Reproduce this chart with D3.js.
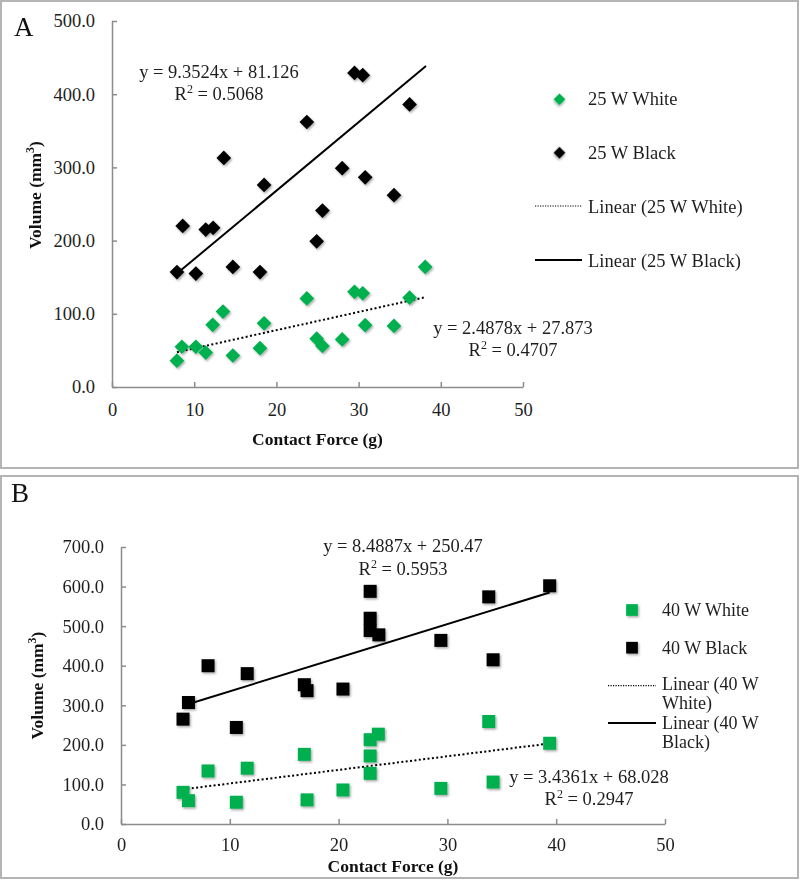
<!DOCTYPE html>
<html><head><meta charset="utf-8">
<script src="https://cdn.jsdelivr.net/npm/d3@7"></script>
<style>body{margin:0;background:#fff} svg{display:block}</style>
</head><body><svg id="c" width="800" height="880"></svg>
<script>
// ---------- data ----------
const xTicks = [0, 10, 20, 30, 40, 50];
const yTicksA = [0, 100, 200, 300, 400, 500];
const yTicksB = [0, 100, 200, 300, 400, 500, 600, 700];

const aWhiteX = [7.9, 8.5, 10.2, 11.4, 12.25, 13.5, 14.7, 18.0, 18.5, 23.7, 24.9, 25.6, 28.0, 29.5, 30.5, 30.8, 34.3, 36.2, 38.1];
const aWhiteY = [36, 55, 55, 47, 85, 103, 43, 53, 87, 121, 66, 56, 65, 130, 128, 84.5, 83.5, 122, 164];
const aBlackX = [7.9, 8.6, 10.2, 11.4, 12.3, 13.6, 14.7, 18.0, 18.5, 23.7, 24.9, 25.6, 28.0, 29.5, 30.5, 30.8, 34.3, 36.2];
const aBlackY = [157, 220, 155, 215, 217.5, 313, 164, 157, 276, 362, 199, 241, 299, 429, 426, 286.5, 262, 386];

const bWhiteX = [5.7, 6.2, 8.0, 10.6, 11.6, 16.85, 17.1, 20.4, 22.9, 22.9, 22.9, 23.65, 29.4, 33.8, 34.2, 39.4];
const bWhiteY = [80, 59, 134, 55, 141, 176, 61, 86, 213, 172, 128, 227, 90, 259, 106, 204];
const bBlackX = [5.7, 6.2, 8.0, 10.6, 11.6, 16.85, 17.1, 20.4, 22.9, 22.9, 22.9, 23.7, 29.4, 33.8, 34.2, 39.4];
const bBlackY = [265, 307, 400, 244, 380, 352, 337, 341, 588, 520, 489, 478, 464, 574, 415, 602];

const seriesNamesA = ["25 W White", "25 W Black"];
const seriesNamesB = ["40 W White", "40 W Black"];
const slopesA = [2.4878, 9.3524], interceptsA = [27.873, 81.126], r2A = ["0.4707", "0.5068"];
const slopesB = [3.4361, 8.4887], interceptsB = [68.028, 250.47], r2B = ["0.2947", "0.5953"];
const trendRangeA = [[7.9, 38.1], [7.9, 38.2]];
const trendRangeB = [[5.7, 39.4], [5.7, 39.4]];

// ---------- drawing ----------
const svg = d3.select("#c");
const FONT = "'Liberation Serif', 'Times New Roman', serif";
const GREEN = "#00b050", INK = "#1e1e1e";

const defs = svg.append("defs");
const f = defs.append("filter").attr("id", "sh").attr("x", "-50%").attr("y", "-50%").attr("width", "200%").attr("height", "200%");
f.append("feDropShadow").attr("dx", 1.2).attr("dy", 1.5).attr("stdDeviation", 1.2)
  .attr("flood-color", "#000").attr("flood-opacity", 0.35);

function fmtEq(m, b) { return "y = " + m + "x + " + b; }

function panel(cfg) {
  const g = svg.append("g");
  g.append("rect").attr("x", cfg.box[0]).attr("y", cfg.box[1])
    .attr("width", cfg.box[2] - cfg.box[0]).attr("height", cfg.box[3] - cfg.box[1])
    .attr("fill", "#fff").attr("stroke", "#b4b4b4").attr("stroke-width", 2);

  const x = d3.scaleLinear().domain([0, 50]).range(cfg.xr);
  const y = d3.scaleLinear().domain([0, cfg.yMax]).range(cfg.yr);

  const ax = g.append("g").attr("transform", `translate(0,${cfg.yr[0]})`)
    .call(d3.axisBottom(x).tickValues(xTicks).tickFormat(d3.format("d"))
      .tickSizeInner(-5).tickSizeOuter(0).tickPadding(cfg.xPad));
  const ay = g.append("g").attr("transform", `translate(${cfg.xr[0]},0)`)
    .call(d3.axisLeft(y).tickValues(cfg.yTicks).tickFormat(d3.format(".1f"))
      .tickSizeInner(-5).tickSizeOuter(0).tickPadding(17));
  [ax, ay].forEach(a => {
    a.selectAll("path,line").attr("stroke", "#8c8c8c").attr("stroke-width", 1.5);
    a.selectAll("text").attr("font-family", FONT).attr("font-size", 18.5).attr("fill", INK);
  });

  // trend lines
  const line = d3.line().x(d => x(d[0])).y(d => y(d[1]));
  [0, 1].forEach(i => {
    const r = cfg.ranges[i];
    const pts = r.map(v => [v, cfg.slopes[i] * v + cfg.intercepts[i]]);
    g.append("path").attr("d", line(pts)).attr("fill", "none").attr("stroke", "#000")
      .attr("stroke-width", 2)
      .attr("stroke-dasharray", i === 0 ? "2,2.4" : null);
  });

  // markers
  const sym = d3.symbol().type(d3.symbolSquare).size(cfg.markSize);
  [[cfg.wx, cfg.wy, GREEN], [cfg.bx, cfg.by, "#000"]].forEach(([xs, ys, col]) => {
    g.append("g").attr("filter", "url(#sh)").selectAll("path").data(xs.map((v, i) => [v, ys[i]]))
      .join("path").attr("d", sym)
      .attr("transform", d => `translate(${x(d[0])},${y(d[1])}) rotate(${cfg.rot})`)
      .attr("fill", col);
  });

  // equations
  [0, 1].forEach(i => {
    const e = cfg.eq[i];
    g.append("text").attr("font-family", FONT).attr("font-size", 18.5).attr("fill", INK)
      .attr("text-anchor", "middle").attr("x", e[0]).attr("y", e[1])
      .text(fmtEq(cfg.slopes[i], cfg.intercepts[i]));
    const t2 = g.append("text").attr("font-family", FONT).attr("font-size", 18.5).attr("fill", INK)
      .attr("text-anchor", "middle").attr("x", e[0]).attr("y", e[2]);
    t2.append("tspan").text("R");
    t2.append("tspan").attr("font-size", 12).attr("dy", -7).text("2");
    t2.append("tspan").attr("dy", 7).text(" = " + cfg.r2[i]);
  });

  // panel letter
  g.append("text").attr("x", cfg.letter[1]).attr("y", cfg.letter[2]).attr("font-family", FONT)
    .attr("font-size", 27).attr("fill", "#111").text(cfg.letter[0]);

  // axis titles
  g.append("text").attr("x", (cfg.xr[0] + cfg.xr[1]) / 2).attr("y", cfg.xTitleY)
    .attr("text-anchor", "middle").attr("font-family", FONT).attr("font-weight", "bold")
    .attr("font-size", 17.5).attr("fill", "#111").text("Contact Force (g)");
  const yt = g.append("text").attr("transform", `translate(${cfg.yTitleX},${(cfg.yr[0] + cfg.yr[1]) / 2 + cfg.yTitleDy}) rotate(-90)`)
    .attr("text-anchor", "middle").attr("font-family", FONT).attr("font-weight", "bold")
    .attr("font-size", 17.5).attr("fill", "#111");
  yt.append("tspan").text("Volume (mm");
  yt.append("tspan").attr("font-size", 12).attr("dy", -7).text("3");
  yt.append("tspan").attr("dy", 7).text(")");

  // legend
  const L = cfg.legend;
  const lg = g.append("g").attr("font-family", FONT).attr("font-size", L.fs).attr("fill", INK);
  const lsym = d3.symbol().type(d3.symbolSquare).size(L.markSize);
  [[GREEN, 0], ["#000", 1]].forEach(([col, i]) => {
    lg.append("path").attr("d", lsym).attr("fill", col).attr("filter", "url(#sh)")
      .attr("transform", `translate(${L.markX},${L.rows[i][0]}) rotate(${cfg.rot})`);
    lg.append("text").attr("x", L.textX).attr("y", L.rows[i][1]).text(cfg.names[i]);
  });
  [0, 1].forEach(i => {
    const r = L.rows[i + 2];
    lg.append("line").attr("x1", L.lineX[0]).attr("x2", L.lineX[1]).attr("y1", r[0]).attr("y2", r[0])
      .attr("stroke", "#000").attr("stroke-width", i === 0 ? 1.2 : 1.8)
      .attr("stroke-dasharray", i === 0 ? "1.2,1.3" : null);
    const lines = L.wrap ? ["Linear (" + cfg.names[i].replace(/ (\S+)$/, ""), cfg.names[i].match(/(\S+)$/)[1] + ")"]
                         : ["Linear (" + cfg.names[i] + ")"];
    const t = lg.append("text").attr("x", L.textX).attr("y", r[1]);
    lines.forEach((s, k) => t.append("tspan").attr("x", L.textX).attr("dy", k === 0 ? 0 : 19).text(s));
  });
}

panel({
  box: [1, 1, 798, 468], xr: [112, 523], yr: [387, 21], yMax: 500, yTicks: yTicksA,
  wx: aWhiteX, wy: aWhiteY, bx: aBlackX, by: aBlackY, rot: 45, markSize: 108,
  slopes: slopesA, intercepts: interceptsA, r2: r2A, ranges: trendRangeA, names: seriesNamesA,
  eq: [[513, 334, 356], [219, 78, 100]], xPad: 16,
  letter: ["A", 14, 36], xTitleY: 445, yTitleX: 41, yTitleDy: -9,
  legend: { markX: 559.5, textX: 588, markSize: 70, lineX: [535, 582], wrap: false, fs: 18.5,
            rows: [[99.3, 105], [152.7, 159], [206, 213], [260, 267]] }
});

panel({
  box: [1, 476, 798, 878], xr: [121, 665], yr: [824, 547], yMax: 700, yTicks: yTicksB,
  wx: bWhiteX, wy: bWhiteY, bx: bBlackX, by: bBlackY, rot: 0, markSize: 169,
  slopes: slopesB, intercepts: interceptsB, r2: r2B, ranges: trendRangeB, names: seriesNamesB,
  eq: [[589, 783, 805], [403, 552, 575]], xPad: 14,
  letter: ["B", 11, 502], xTitleY: 872, yTitleX: 43, yTitleDy: 0,
  legend: { markX: 632, textX: 662, markSize: 137, lineX: [608, 656], wrap: true, fs: 18,
            rows: [[610, 616], [647.7, 654], [685.7, 690], [723, 729]] }
});
</script></body></html>
